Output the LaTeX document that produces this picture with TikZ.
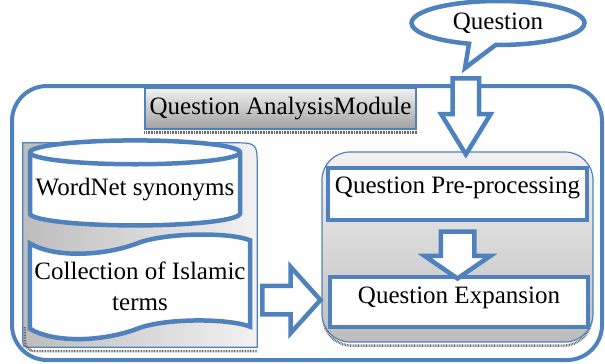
\documentclass[tikz,border=0pt]{standalone}
\usepackage{fontspec}
\setmainfont{Liberation Serif}
\newfontfamily\qfont{Liberation Serif}
\usetikzlibrary{positioning,calc,backgrounds,shapes.geometric,shapes.arrows,shapes.callouts}
\definecolor{qline}{HTML}{4F81BD}
\definecolor{grpLo}{HTML}{BDBDBD}
\definecolor{grpHi}{HTML}{F2F2F2}
\tikzset{
  every node/.style={font=\qfont\fontsize{25}{31}\selectfont},
  module/.style={draw=qline, line width=4pt, rounded corners=35pt,
                 minimum width=590pt, minimum height=274pt},
  titlebox/.style={draw=qline, line width=1.2pt, top color=grpHi, bottom color=grpLo!85!black,
                   minimum width=271pt, minimum height=41pt, inner sep=0pt},
  group/.style={draw=qline, line width=1.2pt, rounded corners=28pt},
  stepbox/.style={draw=qline, line width=4.5pt, fill=white, inner sep=0pt},
  store/.style={draw=qline, line width=4.5pt, fill=white, align=center, inner sep=0pt},
  blockarrow/.style={single arrow, draw=qline, line width=4.5pt, fill=white,
                     inner xsep=0pt, single arrow head indent=0pt},
  shadowline/.style={draw=black!60, line width=2.5pt, dash pattern=on 0.8pt off 0.8pt},
}
\begin{document}
\begin{tikzpicture}[x=1pt, y=-1pt]
  \useasboundingbox (0,0) rectangle (605,364);

  % outer module frame and its title
  \node[module] (qam) at (307,223) {};
  \node[titlebox] (title) at (280.5,108.5) {Question AnalysisModule};

  % incoming question
  \node[ellipse callout, draw=qline, line width=4.5pt, fill=white, inner sep=0pt,
        minimum width=173pt, minimum height=44pt, callout pointer arc=18,
        callout absolute pointer={(465,68)}] (q) at (498,23) {Question};

  % right group: processing steps
  \node[group, top color=grpHi, bottom color=grpLo, minimum width=271pt,
        minimum height=190pt] (rgrp) at (457.5,247) {};
  \node[stepbox, minimum width=259pt, minimum height=52pt, text height=18pt,
        text depth=20pt] (ppre) at (457.5,194) {Question Pre-processing};
  \node[stepbox, minimum width=258pt, minimum height=50pt, text height=17pt,
        text depth=14pt] (qexp) at (459,302) {Question Expansion};

  % left group: resources
  \node[minimum width=234pt, minimum height=204pt, inner sep=0pt] (lgrp) at (140,245) {};
  \node[store, cylinder, shape border rotate=90, aspect=0.12, minimum width=210pt,
        minimum height=85pt] (wn) at (135,190) {WordNet synonyms};
  \node[align=center, inner sep=0pt, minimum width=220pt, minimum height=85pt]
    (coll) at (140,286) {Collection of Islamic\\terms};
  \begin{scope}[on background layer]
    \shade[left color=grpLo, right color=grpHi, draw=qline, line width=1.2pt]
      ($(lgrp.south west)+(0,-8)$) -- (lgrp.north west)
      -- ($(lgrp.north east)+(-25,0)$) .. controls (lgrp.north east) .. ($(lgrp.north east)+(0,25)$)
      -- (lgrp.south east) -- ($(lgrp.south west)+(8,0)$)
      .. controls (lgrp.south west) .. cycle;
    % wavy tape outline round the text node
    \draw[store] (coll.north west) .. controls +(25,15) and +(-35,14) .. ($(coll.north)+(0,-1)$)
      .. controls +(30,-10) and +(-20,-8) .. ($(coll.north east)+(0,-3)$)
      -- ($(coll.south east)+(0,-2)$)
      .. controls +(-20,-8) and +(30,-10) .. ($(coll.south)+(0,-1)$)
      .. controls +(-35,14) and +(25,15) .. (coll.south west) -- cycle;

    % drop shadows
    \draw[shadowline] ($(title.south west)+(0,3)$) -- ($(title.south east)+(0,3)$);
    \draw[shadowline, rounded corners=10pt] ($(lgrp.south west)+(2,-20)$)
      |- ($(lgrp.south east)+(0,4)$);
    \draw[shadowline, rounded corners=28pt] ($(rgrp.south west)+(2,-40)$)
      |- ($(rgrp.south east)+(-2,3)$) -- ($(rgrp.south east)+(-2,-40)$);
  \end{scope}

  % block arrows
  \node[blockarrow, rotate=-90, minimum height=76pt, inner ysep=11pt,
        single arrow head extend=11.5pt, single arrow tip angle=63, anchor=tail]
    (a1) at ($(q.pointer)+(4,3)$) {};
  \node[blockarrow, rotate=-90, minimum height=47pt, inner ysep=14.5pt,
        single arrow head extend=16pt, single arrow tip angle=111, anchor=tail]
    (a2) at ($(ppre.south)+(0,7)$) {};
  \node[blockarrow, minimum height=58pt, inner ysep=12pt,
        single arrow head extend=19pt, single arrow tip angle=96, anchor=tail]
    (a3) at ($(lgrp.east |- qexp.center)+(3,-2)$) {};
\end{tikzpicture}
\end{document}
